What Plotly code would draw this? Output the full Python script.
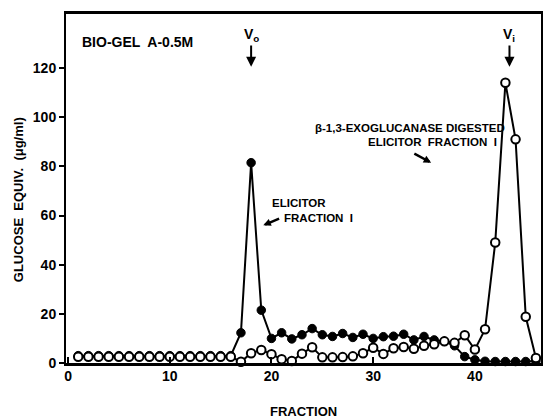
import plotly.graph_objects as go

fractions = list(range(1, 47))

elicitor = [3, 3, 3, 3, 3, 3, 3, 3, 3, 3, 3, 3, 3, 3, 3, 3,
            12.3, 81.5, 21.5, 10, 12.3, 9.8, 11.5, 14, 11.5, 10.8,
            12, 10.4, 11.7, 10, 10.7, 10.9, 11.7, 9.4, 10.8, 9.4,
            8.8, 7, 2.6, 1.3, 0.7, 0.6, 0.6, 0.6, 0.6, 0.8]

digested = [2.5, 2.5, 2.5, 2.5, 2.5, 2.5, 2.5, 2.5, 2.5, 2.5, 2.5, 2.5, 2.5, 2.5, 2.5, 2.5,
            0.5, 4, 5.3, 3.6, 1.5, 0.8, 3.8, 6.4, 2.3, 2.3,
            2.4, 2.7, 4, 6.2, 3.7, 6, 6.5, 5.8, 7, 7.6,
            8.8, 8.2, 11.3, 5.5, 13.7, 49, 114, 91, 18.8, 2]

x_ticks = [0, 10, 20, 30, 40]
y_ticks = [0, 20, 40, 60, 80, 100, 120]

FONT = "Liberation Sans"

fig = go.Figure()
fig.add_trace(go.Scatter(
    x=fractions, y=elicitor, mode="lines+markers",
    line=dict(color="black", width=2),
    marker=dict(symbol="circle", size=8.5, color="black", line=dict(color="black", width=1)),
    showlegend=False, cliponaxis=False))
fig.add_trace(go.Scatter(
    x=fractions, y=digested, mode="lines+markers",
    line=dict(color="black", width=2),
    marker=dict(symbol="circle", size=8.5, color="white", line=dict(color="black", width=2)),
    showlegend=False, cliponaxis=False))

def txt(size):
    return dict(family=FONT, size=size, color="black", weight="bold")

ann = []
ann.append(dict(x=1.2, y=130.5, xref="x", yref="y", text="BIO-GEL  A-0.5M", showarrow=False,
                xanchor="left", yanchor="middle", font=txt(14)))
ann.append(dict(x=18, y=120.5, ax=18, ay=133.5, xref="x", yref="y", axref="x", ayref="y",
                text="V<sub>o</sub>", showarrow=True, arrowhead=2, arrowsize=1, arrowwidth=2,
                arrowcolor="black", font=txt(14)))
ann.append(dict(x=43.4, y=120.5, ax=43.4, ay=133.5, xref="x", yref="y", axref="x", ayref="y",
                text="V<sub>i</sub>", showarrow=True, arrowhead=2, arrowsize=1, arrowwidth=2,
                arrowcolor="black", font=txt(14)))
ann.append(dict(x=43.2, y=95.5, xref="x", yref="y", text="β-1,3-EXOGLUCANASE DIGESTED",
                showarrow=False, xanchor="right", yanchor="middle", font=txt(11.5)))
ann.append(dict(x=42.4, y=90, xref="x", yref="y", text="ELICITOR  FRACTION  I",
                showarrow=False, xanchor="right", yanchor="middle", font=txt(11.5)))
ann.append(dict(x=35.7, y=81.5, ax=33.9, ay=85.5, xref="x", yref="y", axref="x", ayref="y",
                text="", showarrow=True, arrowhead=2, arrowsize=0.6, arrowwidth=2.5,
                arrowcolor="black"))
ann.append(dict(x=19.9, y=65.1, xref="x", yref="y", text="ELICITOR",
                showarrow=False, xanchor="left", yanchor="middle", font=txt(11.5)))
ann.append(dict(x=21.0, y=59.0, xref="x", yref="y", text="FRACTION  I",
                showarrow=False, xanchor="left", yanchor="middle", font=txt(11.5)))
ann.append(dict(x=19.2, y=56.0, ax=20.9, ay=59.0, xref="x", yref="y", axref="x", ayref="y",
                text="", showarrow=True, arrowhead=2, arrowsize=0.6, arrowwidth=2.5,
                arrowcolor="black"))
# axis titles
ann.append(dict(x=(18 - 66) / 477, y=(363 - 200) / 349, xref="paper", yref="paper",
                text="GLUCOSE  EQUIV.  (μg/ml)", textangle=-90, showarrow=False,
                xanchor="center", yanchor="middle", font=txt(13)))
ann.append(dict(x=(305 - 66) / 477, y=(363 - 411) / 349, xref="paper", yref="paper",
                text="FRACTION", showarrow=False,
                xanchor="center", yanchor="middle", font=txt(13)))

fig.update_layout(
    width=547, height=418,
    margin=dict(l=66, r=4, t=14, b=55),
    paper_bgcolor="white", plot_bgcolor="white",
    annotations=ann,
    xaxis=dict(range=[-0.2, 46.5], tickvals=x_ticks, ticks="inside", ticklen=6, tickwidth=2,
               tickcolor="black", showline=True, linewidth=3, linecolor="black", mirror=True,
               showgrid=False, zeroline=False, tickfont=txt(14), ticklabelstandoff=-2),
    yaxis=dict(range=[0, 142], tickvals=y_ticks, ticks="outside", ticklen=5, tickwidth=2,
               tickcolor="black", showline=True, linewidth=2, linecolor="black", mirror=True,
               showgrid=False, zeroline=False, tickfont=txt(14), ticklabelstandoff=0),
)

fig.write_html("out.html", config={"displayModeBar": False},
               post_script="document.body.style.margin='0';document.body.style.padding='0';")
